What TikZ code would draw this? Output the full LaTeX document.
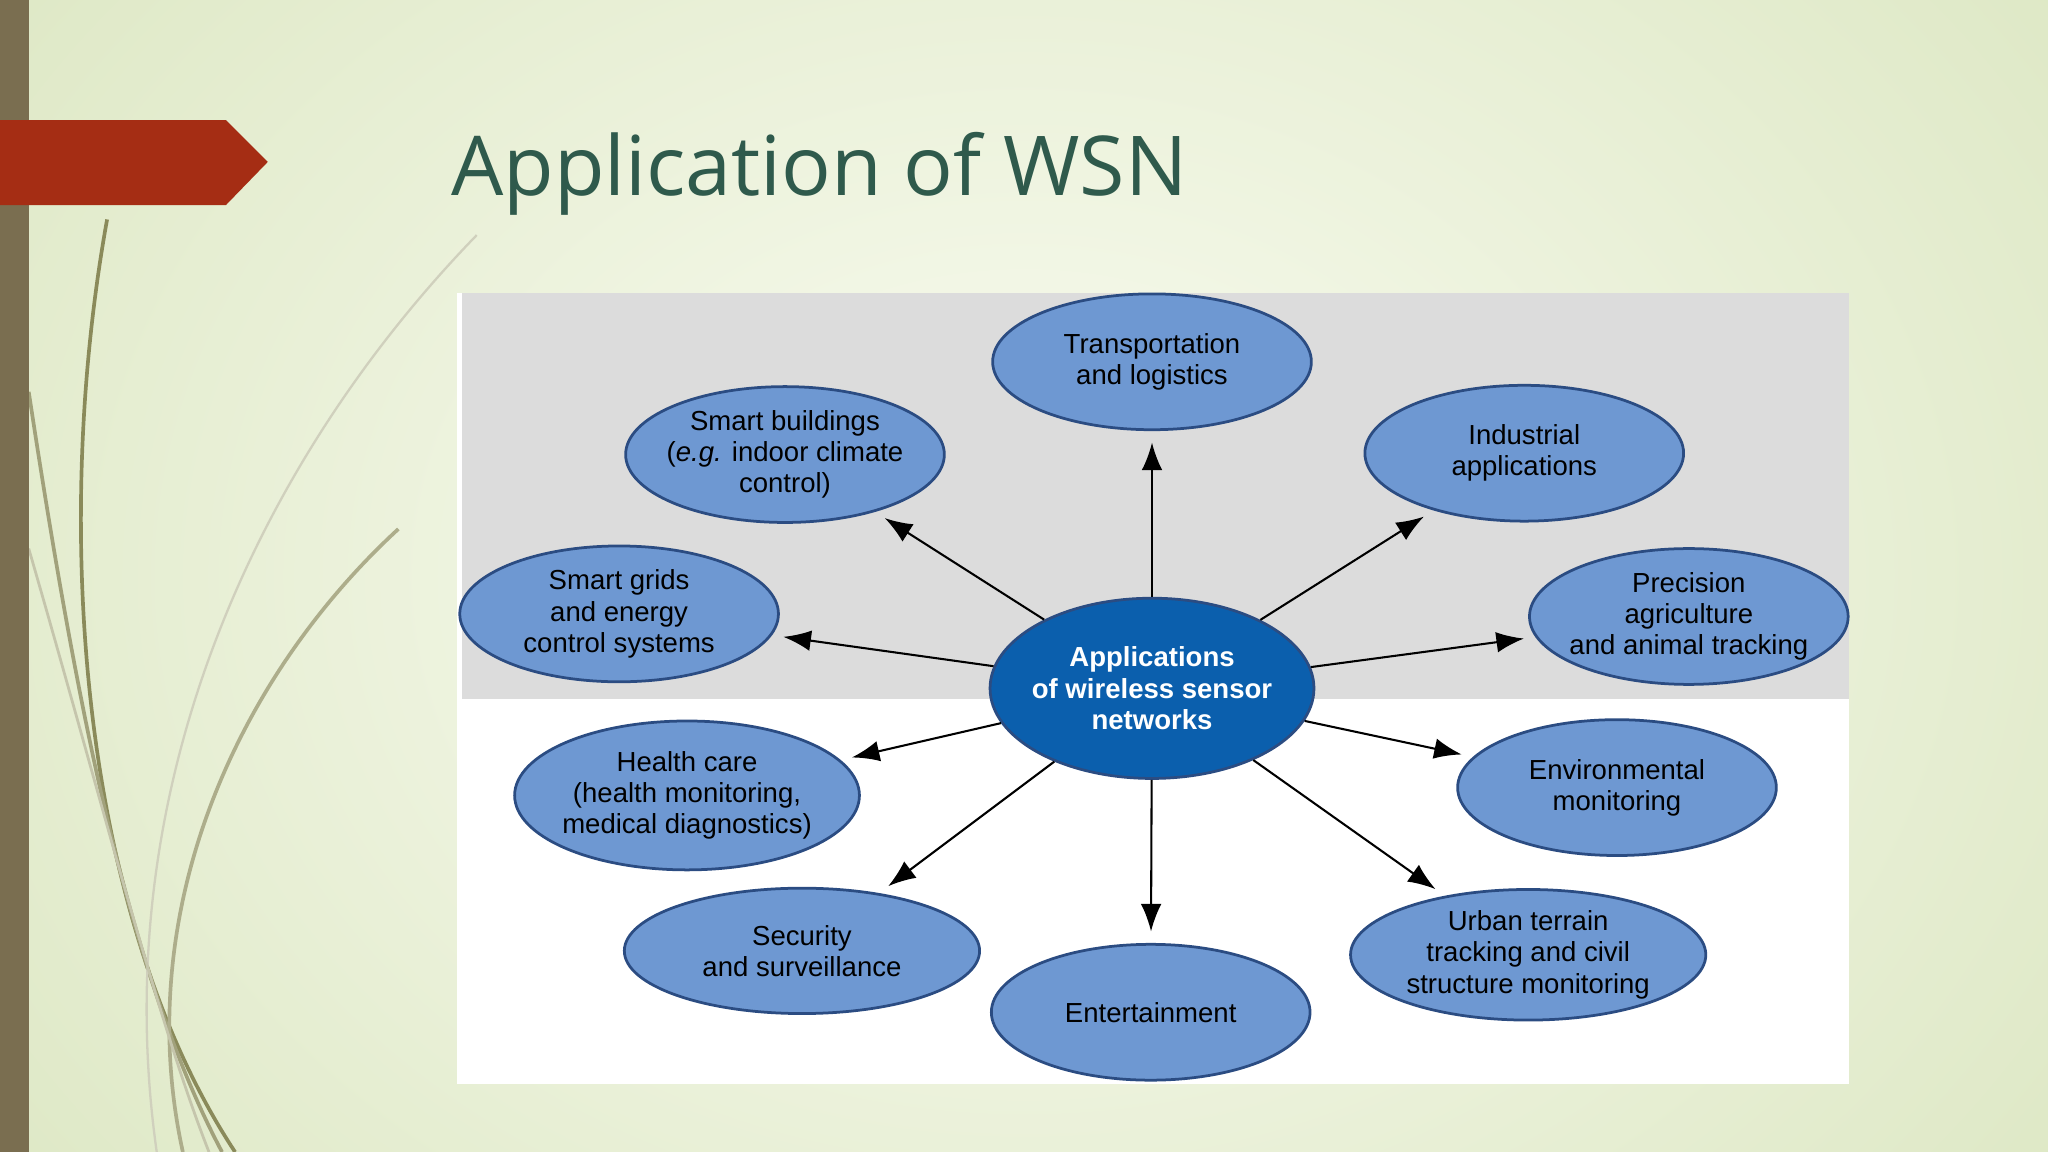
\documentclass[tikz,border=0pt]{standalone}
\usepackage{fontspec}
\setmainfont{Liberation Sans}
\newfontfamily\titlefont{Open Sans}
\usetikzlibrary{shapes.geometric,arrows.meta}
\definecolor{bgA}{HTML}{FAFCF2}
\definecolor{bgB}{HTML}{D8E4BC}
\definecolor{barc}{HTML}{7A6E50}
\definecolor{redc}{HTML}{A52D14}
\definecolor{titc}{HTML}{2F5A4C}
\definecolor{ellf}{HTML}{6E98D2}
\definecolor{elld}{HTML}{2B4C82}
\definecolor{cenf}{HTML}{0B5FAD}
\definecolor{panelg}{HTML}{DCDCDC}
\definecolor{curv}{HTML}{8A8A5A}
\tikzset{
  app/.style={ellipse,draw=elld,line width=1.2pt,fill=ellf,minimum width=244*0.02cm,minimum height=104*0.02cm,align=center,font=\fontsize{12}{13.6}\selectfont,inner sep=-6pt},
  cen/.style={ellipse,draw=elld,line width=1.2pt,fill=cenf,text=white,minimum width=248*0.02cm,minimum height=138*0.02cm,align=center,font=\bfseries\fontsize{12}{13.6}\selectfont,inner sep=-6pt},
  arr/.style={-{Latex[length=12pt,width=9pt]},line width=0.9pt,black,shorten >=5pt}
}
\begin{document}
\begin{tikzpicture}[x=0.02cm,y=-0.02cm]
\useasboundingbox (0,0) rectangle (1568,882);
\shade[inner color=bgA,outer color=bgB] (-400,-500) rectangle (1968,1382);
% decorative curves
\begin{scope}[line width=1.6pt]
\draw[curv] (82,168) .. controls (40,400) and (60,700) .. (180,882);
\draw[curv!80] (22,300) .. controls (60,550) and (100,750) .. (170,882);
\draw[curv!70] (305,405) .. controls (180,520) and (100,700) .. (140,882);
\draw[curv!40,line width=1pt] (365,180) .. controls (200,350) and (80,600) .. (120,882);
\draw[curv!50,line width=1.2pt] (22,420) .. controls (80,620) and (120,780) .. (160,882);
\end{scope}
\fill[barc] (0,0) rectangle (22,882);
\fill[redc] (0,92) -- (173,92) -- (205,124) -- (173,157) -- (0,157) -- cycle;
\node[anchor=west,text=titc,font=\titlefont\fontsize{36}{42}\selectfont,inner sep=0pt] (title) at (345,133) {Application of WSN};
% panel
\fill[white] (350,224) rectangle (1416,830);
\fill[panelg] (354,224) rectangle (1416,535);
% nodes
\node[cen] (c) at (882,527) {Applications\\of wireless sensor\\networks};
\node[app] (tr) at (882,277) {Transportation\\and logistics};
\node[app] (sb) at (601,348) {Smart buildings\\(\textit{e.g.} indoor climate\\control)};
\node[app] (in) at (1167,347) {Industrial\\applications};
\node[app] (sg) at (474,470) {Smart grids\\and energy\\control systems};
\node[app] (pa) at (1293,472) {Precision\\agriculture\\and animal tracking};
\node[app,minimum width=264*0.02cm,minimum height=114*0.02cm] (hc) at (526,609) {Health care\\(health monitoring,\\medical diagnostics)};
\node[app] (em) at (1238,603) {Environmental\\monitoring};
\node[app,minimum width=272*0.02cm,minimum height=96*0.02cm] (se) at (614,728) {Security\\and surveillance};
\node[app,minimum width=272*0.02cm,minimum height=100*0.02cm] (ur) at (1170,731) {Urban terrain\\tracking and civil\\structure monitoring};
\node[app] (en) at (881,775) {Entertainment};
% arrows
\draw[arr] (c) -- (tr);
\draw[arr] (c) -- (sb);
\draw[arr] (c) -- (in);
\draw[arr] (c) -- (sg);
\draw[arr] (c) -- (pa);
\draw[arr] (c) -- (hc);
\draw[arr] (c) -- (em);
\draw[arr] (c) -- (se);
\draw[arr] (c) -- (ur);
\draw[arr] (c) -- (en);
\end{tikzpicture}
\end{document}
